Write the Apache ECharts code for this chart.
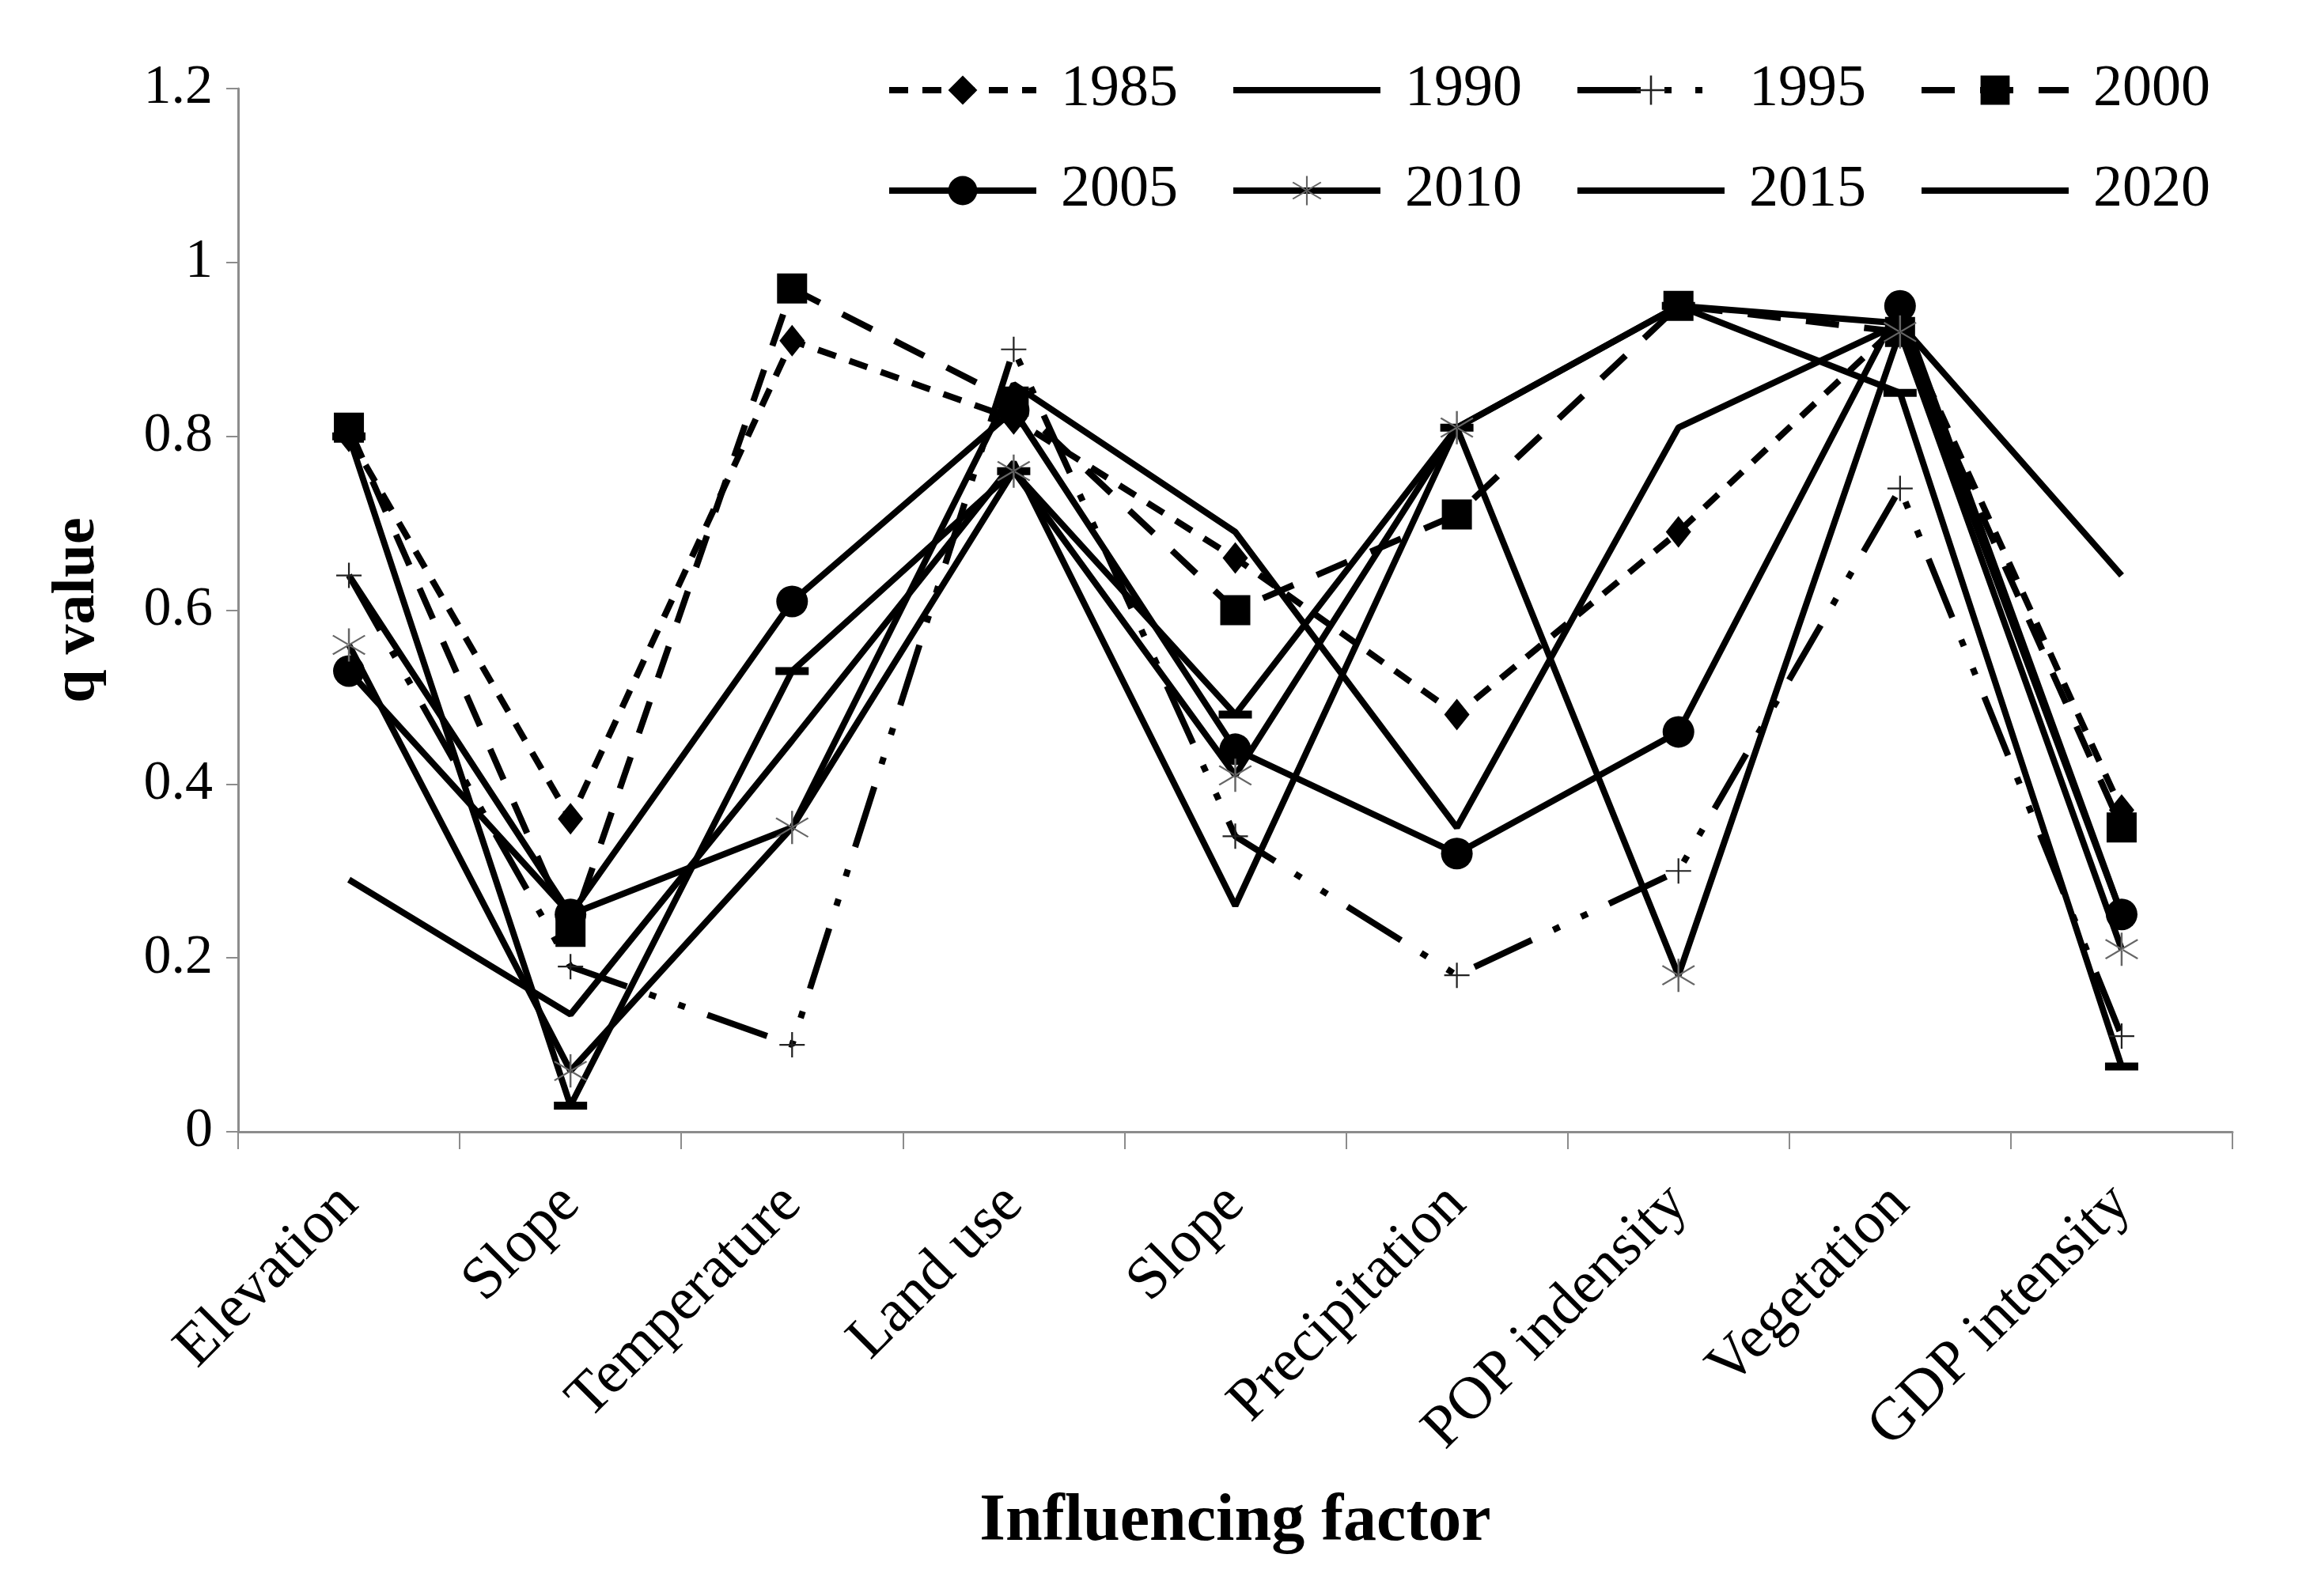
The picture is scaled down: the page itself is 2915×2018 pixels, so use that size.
<!doctype html>
<html>
<head>
<meta charset="utf-8">
<script src="https://cdn.jsdelivr.net/npm/echarts@6/dist/echarts.min.js"></script>
<style>
  html, body { margin: 0; padding: 0; background: #fff; }
  #main { width: 2915px; height: 2018px; }
</style>
</head>
<body>
<div id="main"></div>
<script>
// categories on the x axis
var factors = ['Elevation', 'Slope', 'Temperature', 'Land use', 'Slope',
               'Precipitation', 'POP indensity', 'Vegetation', 'GDP intensity'];

// q values per year
var q1985 = [0.80, 0.36, 0.91, 0.82, 0.66, 0.48, 0.69, 0.93, 0.37];
var q1990 = [0.80, 0.03, 0.53, 0.76, 0.48, 0.81, 0.95, 0.85, 0.075];
var q1995 = [0.64, 0.19, 0.10, 0.90, 0.34, 0.18, 0.30, 0.74, 0.11];
var q2000 = [0.81, 0.23, 0.97, 0.84, 0.60, 0.71, 0.95, 0.92, 0.35];
var q2005 = [0.53, 0.25, 0.61, 0.83, 0.44, 0.32, 0.46, 0.95, 0.25];
var q2010 = [0.56, 0.07, 0.35, 0.76, 0.41, 0.81, 0.18, 0.92, 0.21];
var q2015 = [0.64, 0.25, 0.35, 0.86, 0.69, 0.35, 0.81, 0.93, 0.64];
var q2020 = [0.29, 0.135, 0.45, 0.77, 0.26, 0.81, 0.95, 0.93, 0.25];

var FONT = 'Liberation Serif';
var AXIS_GREY = '#8c8c8c';

// thin marker shapes
var plusPath = 'path://M-1,-0.07 H1 V0.07 H-1 Z M-0.07,-1 H0.07 V1 H-0.07 Z';
var starPath = 'path://M-0.05,-1 H0.05 V1 H-0.05 Z ' +
  'M0.7915,0.611 L0.8485,0.529 L-0.7915,-0.611 L-0.8485,-0.529 Z ' +
  'M-0.7915,0.611 L-0.8485,0.529 L0.7915,-0.611 L0.8485,-0.529 Z';

function mkSeries(name, data, dash, symbol, size, symColor) {
  return {
    name: name,
    type: 'line',
    data: data,
    symbol: symbol,
    symbolSize: size,
    showAllSymbol: true,
    itemStyle: { color: symColor || '#000' },
    lineStyle: { color: '#000', width: 8, type: dash, cap: 'butt' },
    emphasis: { disabled: true }
  };
}

var series = [
  mkSeries('1985', q1985, [24, 18], 'diamond', [32, 40]),
  mkSeries('1990', q1990, 'solid', 'rect', [42, 10]),
  mkSeries('1995', q1995, [80, 30, 9, 30, 9, 30], plusPath, 32, '#222'),
  mkSeries('2000', q2000, [42, 32], 'rect', 38),
  mkSeries('2005', q2005, 'solid', 'circle', 40),
  mkSeries('2010', q2010, 'solid', starPath, 42, '#666'),
  mkSeries('2015', q2015, 'solid', 'none', 0),
  mkSeries('2020', q2020, 'solid', 'none', 0)
];

function legendItem(name, hideSymbol) {
  return hideSymbol ? { name: name, itemStyle: { opacity: 0 } } : { name: name };
}

var legendBase = {
  left: 1115,
  orient: 'horizontal',
  itemWidth: 186,
  itemHeight: 46,
  itemGap: 66,
  lineStyle: { width: 8 },
  textStyle: { fontFamily: FONT, fontSize: 74, color: '#000', padding: [0, 0, 0, 26] }
};

var chart = echarts.init(document.getElementById('main'));
chart.setOption({
  animation: false,
  backgroundColor: '#fff',
  grid: { left: 301, right: 93, top: 112, bottom: 587, containLabel: false },
  legend: [
    Object.assign({}, legendBase, {
      top: 72,
      data: [legendItem('1985'), legendItem('1990', true), legendItem('1995'), legendItem('2000')]
    }),
    Object.assign({}, legendBase, {
      top: 199,
      data: [legendItem('2005'), legendItem('2010'), legendItem('2015', true), legendItem('2020', true)]
    })
  ],
  xAxis: {
    type: 'category',
    data: factors,
    boundaryGap: true,
    name: 'Influencing factor',
    nameLocation: 'middle',
    nameGap: 452,
    nameTextStyle: { fontFamily: FONT, fontSize: 84, fontWeight: 'bold', color: '#000' },
    axisLine: { show: true, lineStyle: { color: AXIS_GREY, width: 3 } },
    axisTick: { show: true, length: 22, lineStyle: { color: AXIS_GREY, width: 2 } },
    axisLabel: { rotate: 45, margin: 80, fontFamily: FONT, fontSize: 76, color: '#000', interval: 0 },
    splitLine: { show: false }
  },
  yAxis: {
    type: 'value',
    min: 0,
    max: 1.2,
    interval: 0.2,
    name: 'q value',
    nameLocation: 'middle',
    nameGap: 165,
    nameRotate: 90,
    nameTextStyle: { fontFamily: FONT, fontSize: 76, fontWeight: 'bold', color: '#000' },
    axisLine: { show: true, lineStyle: { color: AXIS_GREY, width: 3 } },
    axisTick: { show: true, length: 15, lineStyle: { color: AXIS_GREY, width: 2 } },
    axisLabel: { margin: 32, fontFamily: FONT, fontSize: 70, color: '#000' },
    splitLine: { show: false }
  },
  series: series
});
</script>
</body>
</html>
